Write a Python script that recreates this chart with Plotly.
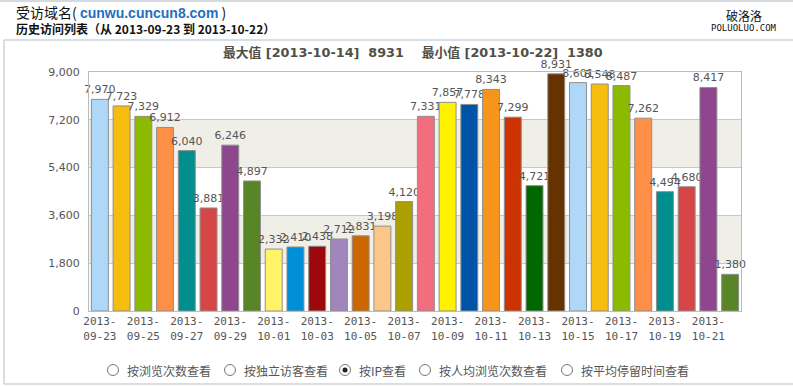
import plotly.graph_objects as go

dates = ["2013-09-23","2013-09-24","2013-09-25","2013-09-26","2013-09-27","2013-09-28","2013-09-29",
         "2013-09-30","2013-10-01","2013-10-02","2013-10-03","2013-10-04","2013-10-05","2013-10-06",
         "2013-10-07","2013-10-08","2013-10-09","2013-10-10","2013-10-11","2013-10-12","2013-10-13",
         "2013-10-14","2013-10-15","2013-10-16","2013-10-17","2013-10-18","2013-10-19","2013-10-20",
         "2013-10-21","2013-10-22"]
ip_values = [7970,7723,7329,6912,6040,3881,6246,4897,2332,2410,2438,2712,2831,3198,4120,
             7331,7857,7778,8343,7299,4721,8931,8601,8548,8487,7262,4494,4680,8417,1380]
palette = ["#AFD8F8","#F6BD0F","#8BBA00","#FF8E46","#008E8E","#D64646","#8E468E","#588526",
           "#FFF468","#008ED6","#9D080D","#A186BE","#CC6600","#FDC689","#ABA000","#F26D7D",
           "#FFF200","#0054A6","#F7941C","#CC3300","#006600","#663300"]
y_ticks = [0,1800,3600,5400,7200,9000]
radio_labels = ["按浏览次数查看","按独立访客查看","按IP查看","按人均浏览次数查看","按平均停留时间查看"]
selected_radio = 2

W, H = 793, 386
L, R, T, B = 89, 741, 72, 311
def px(x): return (x - L) / (R - L)
def py(y): return (B - y) / (B - T)

colors = [palette[i % len(palette)] for i in range(len(ip_values))]
labels = [f"{v:,}" for v in ip_values]
tick_idx = list(range(0, len(dates), 2))

fig = go.Figure(go.Bar(
    x=dates, y=ip_values, text=labels, textposition="outside",
    constraintext="none", cliponaxis=False,
    textfont=dict(family="DejaVu Sans", size=11, color="#555555"),
    marker=dict(color=colors, line=dict(color="#8f8f8f", width=1)),
    hoverinfo="x+y",
))

shapes = []
for i in range(len(y_ticks) - 1):
    if i % 2 == 1:
        shapes.append(dict(type="rect", xref="paper", yref="y", x0=0, x1=1,
                           y0=y_ticks[i], y1=y_ticks[i + 1], fillcolor="#EFEFE8",
                           line=dict(width=0), layer="below"))
frame = "#C9D3DE"
shapes.append(dict(type="line", xref="paper", yref="paper", x0=px(0), x1=px(W), y0=py(1), y1=py(1),
                   line=dict(color="#D5DADF", width=2)))
shapes.append(dict(type="line", xref="paper", yref="paper", x0=px(4), x1=px(W), y0=py(40), y1=py(40),
                   line=dict(color=frame, width=1.5)))
shapes.append(dict(type="line", xref="paper", yref="paper", x0=px(4), x1=px(W), y0=py(384), y1=py(384),
                   line=dict(color=frame, width=1.5)))
shapes.append(dict(type="line", xref="paper", yref="paper", x0=px(4), x1=px(4), y0=py(40), y1=py(384),
                   line=dict(color=frame, width=1.5)))

annotations = []
annotations.append(dict(xref="paper", yref="paper", x=px(14), y=py(12), xanchor="left", yanchor="middle",
    showarrow=False, align="left",
    text="受访域名( <b><span style='color:#1F6FC0;font-family:Liberation Sans'>cunwu.cuncun8.com</span></b> )",
    font=dict(family="Noto Sans CJK SC", size=14, color="#111111")))
annotations.append(dict(xref="paper", yref="paper", x=px(14), y=py(29), xanchor="left", yanchor="middle",
    showarrow=False, text="<b>历史访问列表（从 2013-09-23 到 2013-10-22）</b>",
    font=dict(family="Noto Sans CJK SC", size=12, color="#111111")))
annotations.append(dict(xref="paper", yref="paper", x=px(744), y=py(15), xanchor="center", yanchor="middle",
    showarrow=False, text="破洛洛", font=dict(family="Noto Sans CJK SC", size=12, color="#111111")))
annotations.append(dict(xref="paper", yref="paper", x=px(744), y=py(28), xanchor="center", yanchor="middle",
    showarrow=False, text="POLUOLUO.COM", font=dict(family="DejaVu Sans Mono", size=9, color="#111111")))
annotations.append(dict(xref="paper", yref="paper", x=px(413), y=py(53), xanchor="center", yanchor="middle",
    showarrow=False,
    text=f"<b>最大值 [{dates[ip_values.index(max(ip_values))]}]  {max(ip_values)}    最小值 [{dates[ip_values.index(min(ip_values))]}]  {min(ip_values)}</b>",
    font=dict(family="DejaVu Sans, Noto Sans CJK SC", size=12.8, color="#505046")))
radio_x = [113, 230, 345, 425, 567]
for i, (lab, rx) in enumerate(zip(radio_labels, radio_x)):
    cy = 370
    shapes.append(dict(type="circle", xref="paper", yref="paper",
                       x0=px(rx - 5.5), x1=px(rx + 5.5), y0=py(cy + 5.5), y1=py(cy - 5.5),
                       line=dict(color="#777777", width=1), fillcolor="white"))
    if i == selected_radio:
        shapes.append(dict(type="circle", xref="paper", yref="paper",
                           x0=px(rx - 2.5), x1=px(rx + 2.5), y0=py(cy + 2.5), y1=py(cy - 2.5),
                           line=dict(color="#222222", width=0), fillcolor="#222222"))
    annotations.append(dict(xref="paper", yref="paper", x=px(rx + 12), y=py(cy), xanchor="left",
        yanchor="middle", showarrow=False, text=lab,
        font=dict(family="Noto Sans CJK SC", size=12, color="#555555")))

fig.update_layout(
    width=W, height=H, margin=dict(l=L, r=W - R, t=T, b=H - B),
    paper_bgcolor="white", plot_bgcolor="white",
    bargap=0.22, showlegend=False,
    shapes=shapes, annotations=annotations,
    xaxis=dict(type="category", tickmode="array",
               tickvals=[dates[i] for i in tick_idx],
               ticktext=[dates[i][:5] + "<br>" + dates[i][5:] for i in tick_idx],
               tickfont=dict(family="DejaVu Sans Mono", size=11, color="#555555"),
               showline=True, linecolor="#BBBBBB", mirror=True, showgrid=False,
               ticks="", tickangle=0, fixedrange=True),
    yaxis=dict(range=[0, 9000], tickmode="array", tickvals=y_ticks,
               ticktext=[f"{v:,}" for v in y_ticks],
               tickfont=dict(family="DejaVu Sans", size=11, color="#555555"),
               showgrid=True, gridcolor="#C8C8C8", gridwidth=1,
               showline=True, linecolor="#BBBBBB", mirror=True, zeroline=False,
               ticks="outside", ticklen=6, tickcolor="rgba(0,0,0,0)", fixedrange=True),
    font=dict(family="DejaVu Sans"),
)

fig.write_html("out.html", config={"displayModeBar": False},
               post_script="document.body.style.margin='0';document.body.style.overflow='hidden';")
